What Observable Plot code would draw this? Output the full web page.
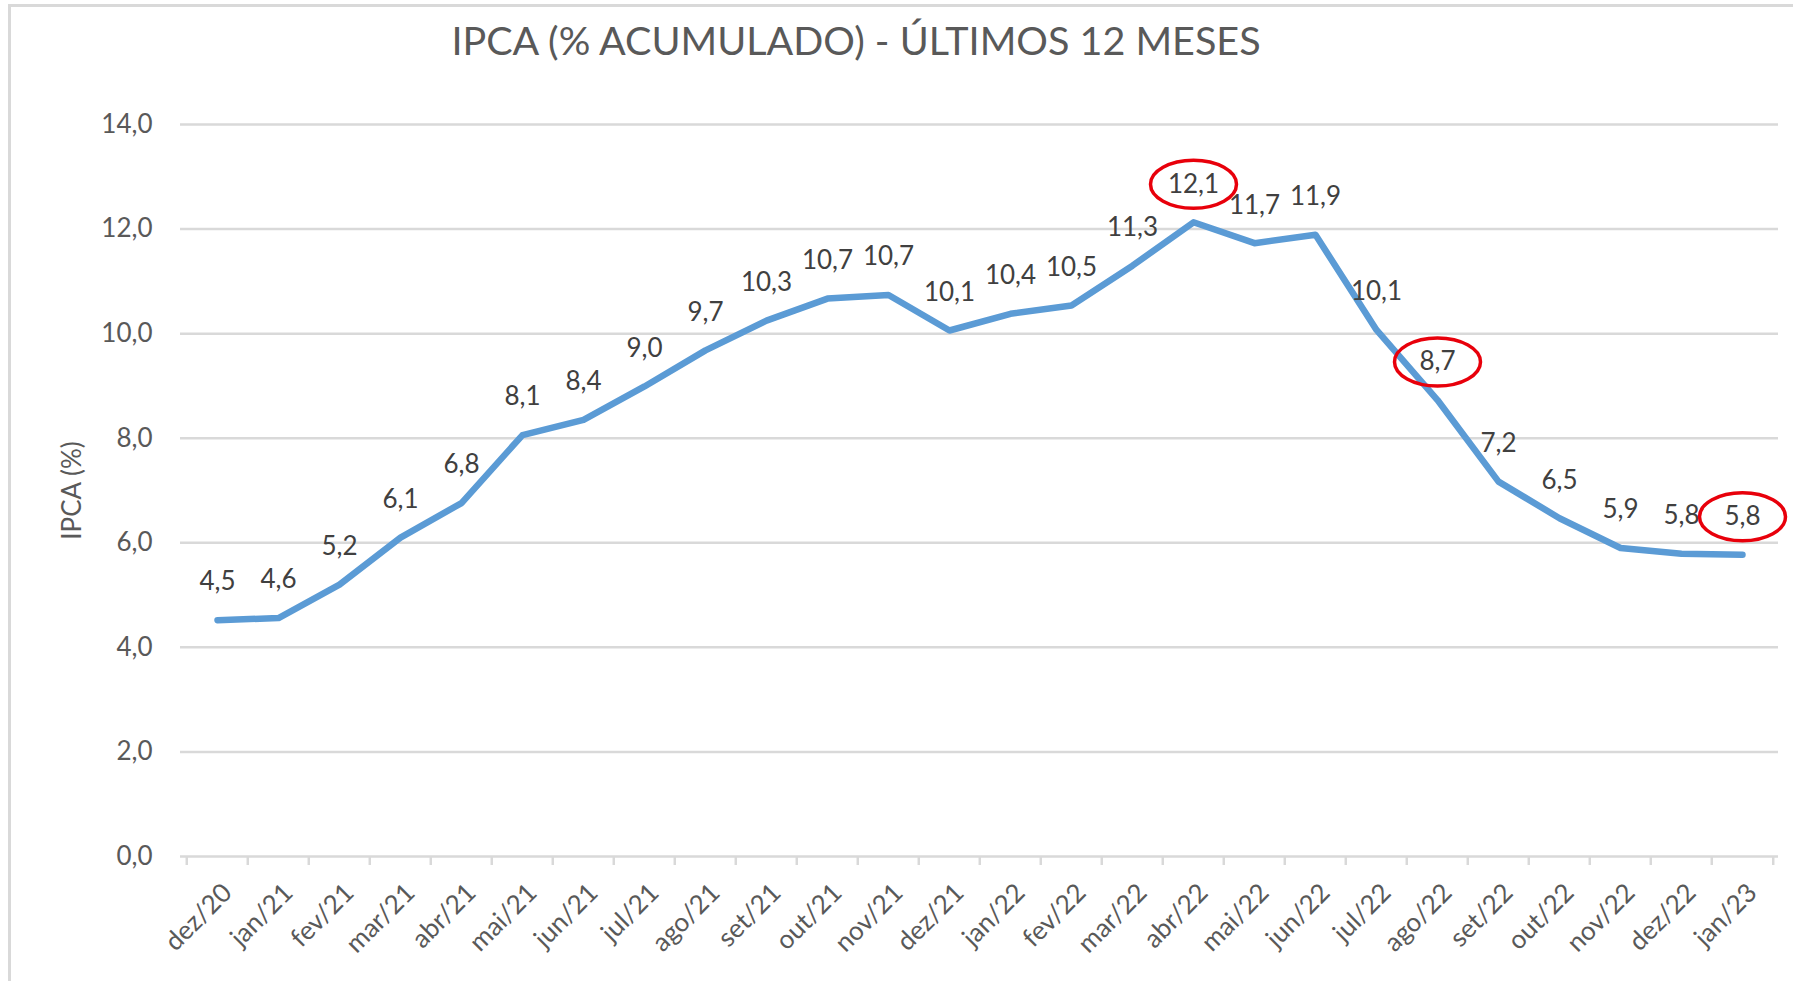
<!DOCTYPE html>
<html>
<head>
<meta charset="utf-8">
<script src="https://cdn.jsdelivr.net/npm/d3@7"></script>
<script src="https://cdn.jsdelivr.net/npm/@observablehq/plot@0.6"></script>
<style>
  html, body { margin: 0; padding: 0; background: #fff; }
  body { width: 1793px; height: 981px; overflow: hidden; position: relative; font-family: Lato, "Open Sans", sans-serif; }
  #frame { position: absolute; left: 8px; top: 4px; right: -10px; bottom: -10px; border-left: 3px solid #D9D9D9; border-top: 3px solid #D9D9D9; }
  #title { position: absolute; left: 0; top: 0; width: 1712px; height: 80px; line-height: 80px; text-align: center; font-size: 39.5px; color: #595959; }
  #chart { position: absolute; left: 0; top: 80px; }
</style>
</head>
<body>
<div id="frame"></div>
<div id="title">IPCA (% ACUMULADO) - ÚLTIMOS 12 MESES</div>
<div id="chart"></div>
<script>
const months = ["dez/20","jan/21","fev/21","mar/21","abr/21","mai/21","jun/21","jul/21","ago/21","set/21","out/21","nov/21","dez/21",
  "jan/22","fev/22","mar/22","abr/22","mai/22","jun/22","jul/22","ago/22","set/22","out/22","nov/22","dez/22","jan/23"];
const ipca = [4.52,4.56,5.20,6.10,6.76,8.06,8.35,8.99,9.68,10.25,10.67,10.74,10.06,
  10.38,10.54,11.30,12.13,11.73,11.89,10.07,8.73,7.17,6.47,5.90,5.79,5.77];
const highlighted = ["abr/22","ago/22","jan/23"];
const yTicks = [0,2,4,6,8,10,12,14];

const data = months.map((m, i) => ({month: m, value: ipca[i]}));
const fmt = v => (Math.round(v * 10 + 1e-6) / 10).toFixed(1).replace(".", ",");

const W = 1793, H = 901, mL = 180, mR = 15, mT = 44, mB = 125;
const step = (W - mL - mR) / months.length;
const font = "Lato, 'Open Sans', sans-serif";

const ellipseRender = (index, scales, values, dimensions, context, next) => {
  const g = next(index, scales, values, dimensions, context);
  d3.select(g).selectAll("circle").each(function() {
    const c = d3.select(this);
    const e = d3.select(this.parentNode).append("ellipse")
      .attr("cx", c.attr("cx")).attr("cy", c.attr("cy"))
      .attr("rx", 43).attr("ry", 24)
      .attr("fill", "none").attr("stroke", "#E8000B").attr("stroke-width", 3.5);
    if (c.attr("transform")) e.attr("transform", c.attr("transform"));
    c.remove();
  });
  return g;
};

const chart = Plot.plot({
  width: W, height: H,
  marginLeft: mL, marginRight: mR, marginTop: mT, marginBottom: mB,
  style: {fontFamily: font, background: "transparent", overflow: "visible"},
  x: {type: "point", domain: months, padding: 0.5, label: null},
  y: {domain: [0, 14], label: null},
  marks: [
    Plot.gridY(yTicks, {stroke: "#D9D9D9", strokeOpacity: 1, strokeWidth: 2.5}),
    Plot.axisY(yTicks, {tickSize: 0, tickPadding: 28, fontSize: 26, fill: "#595959", tickFormat: fmt, label: null}),
    Plot.axisX(months, {text: null, tickSize: 9, dx: -step / 2, stroke: "#D9D9D9", strokeWidth: 2.5, strokeOpacity: 1, label: null}),
    Plot.axisX([months[months.length - 1]], {text: null, tickSize: 9, dx: step / 2, stroke: "#D9D9D9", strokeWidth: 2.5, strokeOpacity: 1, label: null}),
    Plot.axisX(months, {tickSize: 0, tickRotate: -45, tickPadding: 32, dx: 10, fontSize: 26, fill: "#595959", label: null}),
    Plot.text(["IPCA (%)"], {frameAnchor: "left", textAnchor: "middle", dx: -108, rotate: -90, fontSize: 26, fill: "#595959", text: d => d}),
    Plot.line(data, {x: "month", y: "value", stroke: "#5B9BD5", strokeWidth: 6.5, strokeLinejoin: "round", strokeLinecap: "round"}),
    Plot.text(data, {x: "month", y: "value", text: d => fmt(d.value), dy: -38, fontSize: 26, fill: "#404040"}),
    Plot.dot(data.filter(d => highlighted.includes(d.month)), {x: "month", y: "value", dy: -38, r: 40, stroke: "#E8000B", render: ellipseRender})
  ]
});
document.getElementById("chart").appendChild(chart);
</script>
</body>
</html>
